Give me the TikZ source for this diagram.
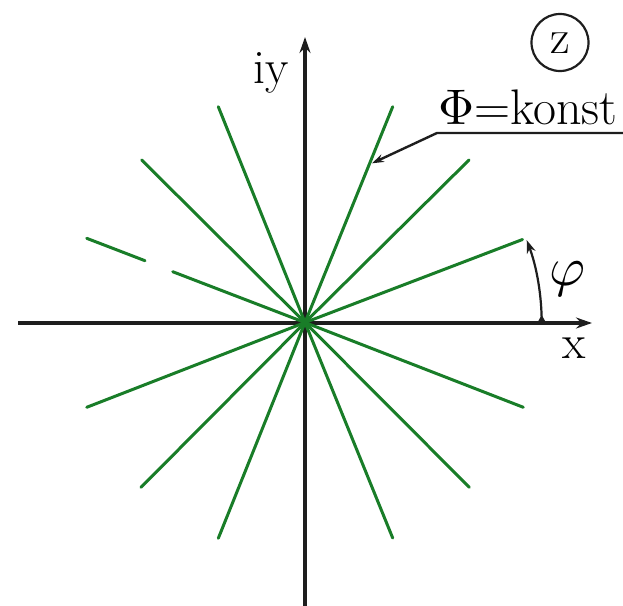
\documentclass[tikz,border=0pt]{standalone}
\usetikzlibrary{arrows.meta}
\definecolor{raygreen}{RGB}{25,125,40}
\definecolor{axisgray}{RGB}{30,30,30}
\begin{document}
\begin{tikzpicture}[x=1pt,y=-1pt,
  axis/.style={draw=axisgray,line width=3.2pt,-{Stealth[length=16pt,width=11pt]}},
  ray/.style={draw=raygreen,line width=3pt},
  leader/.style={draw=axisgray,line width=2.4pt},
  lbl/.style={inner sep=0pt,font=\fontsize{48}{52}\selectfont},
  biglbl/.style={inner sep=0pt,font=\fontsize{50}{54}\selectfont}]
\useasboundingbox (0,0) rectangle (623,605);
% axes
\coordinate (O) at (305,322.5);
\coordinate (xl) at (18,323);
\coordinate (xr) at (592,323);
\coordinate (yb) at (305,606);
\coordinate (yt) at (305,37);
\draw[axis] (xl) -- (xr);
\draw[axis] (yb) -- (yt);
% ray end points
\coordinate (r1) at (522.5,239.5);
\coordinate (r2) at (469,160);
\coordinate (r3) at (392.7,106.7);
\coordinate (r4) at (218.3,106.7);
\coordinate (r5) at (141.7,160);
\coordinate (r6) at (86.7,238.3);
\coordinate (r7) at (86.7,407.3);
\coordinate (r8) at (141,487.3);
\coordinate (r9) at (218.3,538.3);
\coordinate (r10) at (392.7,538);
\coordinate (r11) at (469.3,487.3);
\coordinate (r12) at (523.3,407.3);
\coordinate (g1) at (172.7,271.7);
\coordinate (g2) at (145,260.7);
\foreach \r in {r1,r2,r3,r4,r5,r7,r8,r9,r10,r11,r12}{
  \draw[ray,line cap=round] (O) -- (\r);
}
\draw[ray,line cap=round] (O) -- (g1);
\draw[ray,line cap=round] (g2) -- (r6);
% angle arc
\coordinate (a0) at (541.7,323);
\fill[axisgray] (a0) ++(-4.5,0) -- ++(9,0) -- ++(-4.5,-8) -- cycle;
\draw[draw=axisgray,line width=2.2pt,-{Stealth[length=13pt,width=9pt]}]
  (a0) arc[start angle=0,end angle=-20.5,radius=236.7];
\node[inner sep=0pt,anchor=center,font=\normalsize] (phi) at (567,279) {\scalebox{5.5}{$\varphi$}};
% axis labels
\node[lbl,anchor=base] (xlab) at (574,358) {x};
\node[lbl,anchor=base] (iylab) at (271,83) {iy};
% z circle
\node[draw=axisgray,line width=2.2pt,circle,minimum size=57pt,inner sep=0pt] (zc) at (560,42.5) {};
\node[lbl,anchor=base] (zlab) at (560,53) {z};
% leader with label
\coordinate (lr) at (625,133);
\coordinate (lc) at (437,133);
\coordinate (lt) at (372,163.3);
\draw[leader,-{Stealth[length=12pt,width=8pt]}] (lr) -- (lc) -- (lt);
\node[biglbl,anchor=base west,inner xsep=0pt] (konst) at (438,124) {\scalebox{5}{\normalsize$\Phi$}=konst};
\end{tikzpicture}
\end{document}
